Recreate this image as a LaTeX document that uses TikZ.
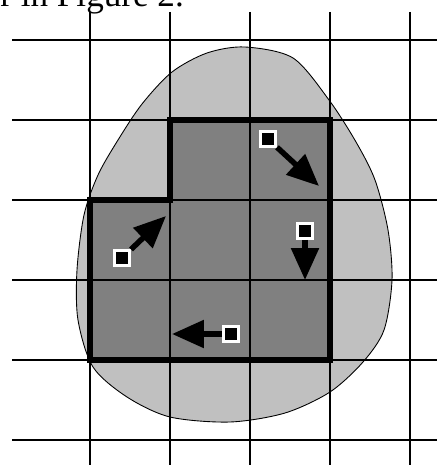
\documentclass[tikz,border=0pt]{standalone}
\usepackage{fontspec}
\setmainfont{Liberation Serif}
\usetikzlibrary{arrows.meta}
\definecolor{blobgray}{RGB}{192,192,192}
\definecolor{cellgray}{RGB}{128,128,128}
\tikzset{
  gridline/.style={black,line width=0.055cm},
  region/.style={draw=black,line width=0.13cm,line join=miter},
  blob/.style={fill=blobgray,draw=black,line width=0.5pt},
  marker/.style={rectangle,fill=black,draw=white,line width=0.06cm,
    minimum size=0.3cm,inner sep=0pt},
  move/.style={-{Triangle[length=6.4mm,width=5.4mm]},line width=0.11cm},
}

\begin{document}
\begin{tikzpicture}[x=0.02cm,y=-0.02cm]
  \useasboundingbox (0,0) rectangle (437,465);
  % cut-off caption line
  \node[anchor=base west,inner sep=0pt,font=\fontsize{20}{24}\selectfont] (caption) at (0,7) {r in Figure 2.};
  % the blob
  \draw[blob] plot[smooth cycle] coordinates {(245,47) (293,58) (329,100) (356,142)
    (375,180) (388,230) (392,280) (384,330) (363,362) (330,392) (285,413) (230,422)
    (170,417) (127,397) (93,367) (78,320) (77,270) (84,215) (98,175) (118,140)
    (142,104) (172,72) (207,53)};
  % covered cells
  \fill[cellgray] (170,120) -- (330,120) -- (330,360) -- (90,360) -- (90,200) -- (170,200) -- cycle;
  % grid
  \foreach \y in {40,120,...,440}
    \draw[gridline] (12,\y) -- (437,\y);
  \foreach \x in {90,170,...,410}
    \draw[gridline] (\x,12) -- (\x,465);
  \draw[region] (170,120) -- (330,120) -- (330,360) -- (90,360) -- (90,200) -- (170,200) -- cycle;
  % moves
  \foreach \n/\sx/\sy/\tx/\ty in {a/122/258/166/216,b/268/139/319/186,c/305/231/305/280,d/231/334/172/334}{
    \node[marker] (sq\n) at (\sx,\sy) {};
    \coordinate (tip\n) at (\tx,\ty);
    \draw[move] (sq\n) -- (tip\n);
  }
\end{tikzpicture}
\end{document}
